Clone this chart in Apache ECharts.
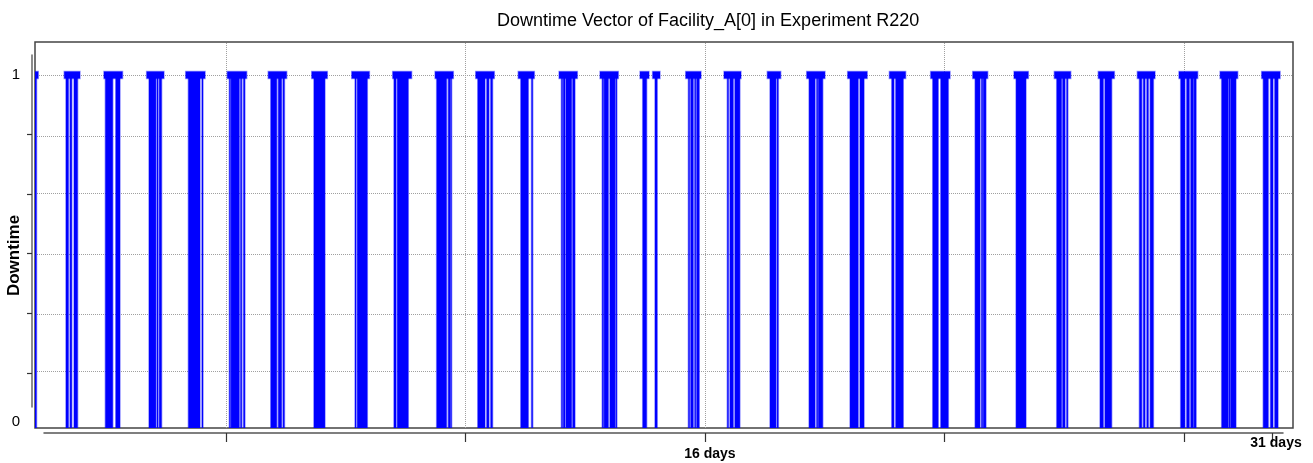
<!DOCTYPE html>
<html>
<head>
<meta charset="utf-8">
<script src="https://cdn.jsdelivr.net/npm/echarts@6/dist/echarts.min.js"></script>
<style>
html,body{margin:0;padding:0;background:#fff;}
#c{width:1313px;height:463px;}
</style>
</head>
<body>
<div id="c"></div>
<script>
// ---------- data (time in hours) ----------
const titleText = 'Downtime Vector of Facility_A[0] in Experiment R220';
const yAxisName = 'Downtime';

// periods where downtime = 1 (top level)
const barStart = [-42, -22.7, 2.5, 29.6, 54.4, 80.8, 106.8, 134.4, 159.8, 185.8, 212.7, 238.5, 265.5, 291.4, 317.4, 342.8, 350.8, 371.8, 396.1, 423.6, 448.6, 474.6, 501.1, 527.3, 554.0, 580.2, 605.8, 633.7, 658.5, 684.9, 711.0, 737.4];
const barEnd   = [-39.2, -12.7, 14.3, 40.6, 66.7, 93.1, 118.5, 144.3, 171.0, 197.8, 224.3, 250.3, 275.7, 303.0, 329.0, 348.5, 355.5, 381.5, 406.9, 432.1, 460.2, 487.0, 511.4, 539.6, 563.5, 589.3, 616.2, 643.9, 669.7, 696.8, 722.2, 749.1];

// 0/1 transition clusters (vertical strokes)
const stripeStart = [-42,
  -21.6, -19.0, -16.5,
  3.4, 10.0,
  31.1, 36.2, 37.6,
  56.1, 64.7,
  82.1, 83.2, 89.2, 91.1,
  108.4, 113.2, 116.2,
  135.8,
  161.9, 163.3,
  186.6, 188.7,
  213.7, 221.1, 222.5,
  239.8, 245.5, 248.0,
  267.1, 273.9,
  292.9, 294.1, 295.8, 300.1,
  318.8, 320.0, 323.7, 327.4,
  344.5,
  352.3,
  373.5, 375.0, 377.5, 378.8,
  398.2, 399.9, 403.0,
  425.3, 429.8,
  450.1, 454.9, 456.0,
  476.1, 482.4,
  502.6, 505.1,
  528.6, 533.7,
  555.5, 559.5, 560.7,
  581.5,
  607.3, 611.1, 613.6,
  634.8, 637.9,
  659.8, 662.3, 664.5, 666.6,
  686.0, 689.8, 692.4, 694.5,
  712.0, 716.7, 717.7,
  738.4, 743.0, 745.7];
const stripeEnd = [-40.3,
  -20.0, -17.9, -14.2,
  8.1, 12.7,
  35.5, 36.8, 39.1,
  63.5, 65.4,
  82.8, 88.4, 90.0, 92.0,
  112.2, 115.3, 117.1,
  142.8,
  162.5, 169.7,
  187.9, 195.7,
  220.0, 222.2, 223.2,
  244.4, 246.9, 249.2,
  271.9, 274.7,
  293.6, 295.2, 299.4, 301.5,
  319.6, 322.7, 326.9, 328.1,
  347.0,
  353.7,
  374.3, 376.6, 378.2, 380.4,
  399.0, 402.0, 406.2,
  429.1, 430.6,
  453.9, 455.6, 458.8,
  481.3, 485.0,
  504.0, 509.9,
  532.1, 538.5,
  558.6, 560.3, 562.4,
  587.8,
  610.4, 612.6, 614.4,
  636.9, 642.2,
  661.3, 663.4, 665.5, 668.7,
  688.7, 691.5, 694.1, 695.8,
  716.2, 717.3, 721.1,
  741.6, 744.6, 747.8];

const yGridValues = [1/6, 2/6, 3/6, 4/6, 5/6, 1];
const yTickValues = [1/6, 2/6, 3/6, 4/6, 5/6];
const yLabelValues = [0, 1];
const xGridValues = [80, 232, 384, 536, 688];
const xTickValues = [80, 232, 384, 536, 688, 744];
const xLabelValues = [384, 744];

// ---------- chart ----------
const FONT = '"Liberation Sans", Arial, sans-serif';
const BLUE = '#0000ff';
const HALO = 'rgba(0,0,255,0.4)';
const stripeData = stripeStart.map((s, i) => [s, stripeEnd[i]]);
const barData = barStart.map((s, i) => [s, barEnd[i]]);

const chart = echarts.init(document.getElementById('c'), null, {renderer: 'canvas'});

chart.setOption({
  animation: false,
  backgroundColor: '#fff',
  title: {
    text: titleText, left: 497, top: 12, padding: 0,
    textStyle: {fontSize: 18, fontWeight: 'normal', color: '#000', fontFamily: FONT}
  },
  grid: [
    {left: 35, top: 42, width: 1258, height: 386, show: true, borderColor: '#444', borderWidth: 1.5,
      backgroundColor: 'transparent', containLabel: false, outerBoundsMode: 'none'},
    {left: 32, top: 55, width: 1, height: 352, containLabel: false, outerBoundsMode: 'none'},
    {left: 44, top: 432, width: 1239, height: 1, containLabel: false, outerBoundsMode: 'none'}
  ],
  xAxis: [
    {gridIndex: 0, type: 'value', min: -41.26, max: 757.3, show: false},
    {gridIndex: 1, type: 'value', min: 0, max: 1, show: false},
    {gridIndex: 2, type: 'value', min: -35.55, max: 750.97, position: 'bottom',
      axisLine: {show: true, lineStyle: {color: '#555', width: 1.5}},
      axisTick: {show: true, customValues: xTickValues, length: 9, lineStyle: {color: '#333', width: 1.2}},
      splitLine: {show: false},
      axisLabel: {
        customValues: xLabelValues, margin: 3,
        formatter: v => (v === 744 ? '{hi|' : '{lo|') + Math.round(v / 24) + ' days}',
        rich: {
          lo: {fontSize: 14, fontWeight: 'bold', color: '#000', fontFamily: FONT, padding: [11, 0, 0, 10]},
          hi: {fontSize: 14, fontWeight: 'bold', color: '#000', fontFamily: FONT, padding: [0, 0, 0, 8]}
        }
      }
    }
  ],
  yAxis: [
    // data axis: 0 -> y 432.5, 1 -> y 75
    {gridIndex: 0, type: 'value', min: 0.0126, max: 1.0923, show: false},
    // separate left axis line with ticks
    {gridIndex: 1, type: 'value', min: 0.0713, max: 1.0559,
      axisLine: {show: true, lineStyle: {color: '#666', width: 1.5}},
      axisTick: {show: true, customValues: yTickValues, length: 5, lineStyle: {color: '#333', width: 1.2}},
      axisLabel: {show: false}, splitLine: {show: false}
    },
    {gridIndex: 2, type: 'value', show: false},
    // label axis: 0 -> y 421.5, 1 -> y 74.5
    {gridIndex: 0, type: 'value', min: -0.0187, max: 1.0937, position: 'left',
      axisLine: {show: false}, axisTick: {show: false}, splitLine: {show: false},
      axisLabel: {customValues: yLabelValues, margin: 15, fontSize: 15, color: '#000', fontFamily: FONT},
      name: yAxisName, nameLocation: 'middle', nameGap: 12, nameRotate: 90, nameMoveOverlap: false,
      nameTextStyle: {fontSize: 17, fontWeight: 'bold', color: '#000', fontFamily: FONT, padding: [0, 41, 0, 0]}
    }
  ],
  series: [
    {
      type: 'line', xAxisIndex: 0, yAxisIndex: 0, data: [], z: 1, silent: true,
      markLine: {
        z: 1, silent: true, symbol: ['none', 'none'], label: {show: false}, animation: false,
        lineStyle: {type: 'dotted', color: '#a0a0a0', width: 1},
        emphasis: {disabled: true},
        data: yGridValues.map(v => ({yAxis: v})).concat(xGridValues.map(v => ({xAxis: v})))
      }
    },
    {
      type: 'custom', name: 'transitions', xAxisIndex: 0, yAxisIndex: 0, z: 2, clip: true, silent: true,
      data: stripeData, encode: {x: [0, 1]},
      renderItem: (params, api) => {
        const p0 = api.coord([api.value(0), 1]);
        const p1 = api.coord([api.value(1), 0]);
        return {type: 'rect', shape: {x: p0[0], y: p0[1], width: Math.max(p1[0] - p0[0], 1), height: p1[1] - p0[1]},
          style: {fill: BLUE, stroke: HALO, lineWidth: 1.5}};
      }
    },
    {
      type: 'custom', name: 'downtime', xAxisIndex: 0, yAxisIndex: 0, z: 3, clip: true, silent: true,
      data: barData, encode: {x: [0, 1]},
      renderItem: (params, api) => {
        const a = api.coord([api.value(0), 1]);
        const b = api.coord([api.value(1), 1]);
        return {type: 'rect', shape: {x: a[0], y: a[1] - 3.5, width: b[0] - a[0], height: 7},
          style: {fill: BLUE, stroke: HALO, lineWidth: 1.5}};
      }
    }
  ]
});
</script>
</body>
</html>
